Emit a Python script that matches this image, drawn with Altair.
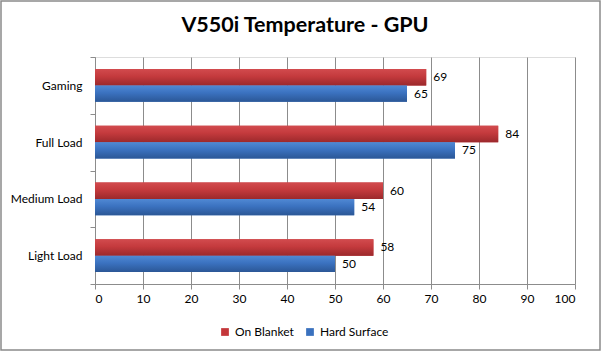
import altair as alt
import pandas as pd

categories = ["Gaming", "Full Load", "Medium Load", "Light Load"]
series = ["On Blanket", "Hard Surface"]
on_blanket = [69, 84, 60, 58]
hard_surface = [65, 75, 54, 50]
x_ticks = [0, 10, 20, 30, 40, 50, 60, 70, 80, 90, 100]

rows = []
for c, a, b in zip(categories, on_blanket, hard_surface):
    rows.append({"cat": c, "series": series[0], "val": a})
    rows.append({"cat": c, "series": series[1], "val": b})
df = pd.DataFrame(rows)

FONT = "Lato"
GRID = "#8c8c8c"

y_enc = alt.Y("cat:N", sort=categories, title=None,
              scale=alt.Scale(paddingInner=0, paddingOuter=0),
              axis=alt.Axis(labelFont=FONT, labelFontSize=12, labelColor="#000000",
                            labelPadding=8, tickBand="extent", tickSize=5,
                            tickColor=GRID, domainColor=GRID))
yoff_enc = alt.YOffset("series:N", sort=series,
                       scale=alt.Scale(paddingInner=0, paddingOuter=0.73))
x_enc = alt.X("val:Q", title=None,
              scale=alt.Scale(domain=[0, 100], nice=False),
              axis=alt.Axis(values=x_ticks, grid=True, gridColor=GRID,
                            labelFont=FONT, labelFontSize=12, labelColor="#000000",
                            tickSize=5, tickColor=GRID, domainColor=GRID,
                            labelPadding=4))

color_enc = alt.Color("series:N", sort=series,
                      scale=alt.Scale(domain=series, range=["#C4373A", "#3A71BE"]),
                      legend=alt.Legend(title=None, orient="none", direction="horizontal",
                                        legendX=124, legendY=269, symbolType="square",
                                        symbolSize=60, labelFont=FONT, labelFontSize=12,
                                        labelColor="#000000", columnPadding=10,
                                        symbolStrokeWidth=0, labelOffset=4))

base = alt.Chart(df).encode(y=y_enc, yOffset=yoff_enc)

bars = base.mark_bar().encode(x=x_enc, color=color_enc)

def grad(top, mid, bot):
    return alt.Gradient(gradient="linear", x1=0, x2=0, y1=0, y2=1,
                        stops=[alt.GradientStop(color=top, offset=0),
                               alt.GradientStop(color=mid, offset=0.45),
                               alt.GradientStop(color=bot, offset=1)])

red_bars = base.mark_bar(color=grad("#D24B4E", "#C43A3D", "#9C292C")).encode(
    x="val:Q").transform_filter(alt.datum.series == series[0])
blue_bars = base.mark_bar(color=grad("#5089D4", "#3B72C0", "#2B5796")).encode(
    x="val:Q").transform_filter(alt.datum.series == series[1])

labels = base.mark_text(align="left", baseline="middle", dx=7, font=FONT,
                        fontSize=12, color="#000000").encode(
    x=alt.X("val:Q"), text=alt.Text("val:Q"))

border = alt.Chart(pd.DataFrame({"a": [0]})).mark_rect(
    fill=None, stroke="#8a8a8a", strokeWidth=1.5, clip=False).encode(
    x=alt.value(-94), x2=alt.value(505), y=alt.value(-56), y2=alt.value(293))

chart = alt.layer(bars, red_bars, blue_bars, labels, border).properties(
    width=480, height=227,
    title=alt.TitleParams("V550i Temperature - GPU", font=FONT, fontSize=21.5,
                          fontWeight="bold", color="#000000", anchor="middle",
                          dx=-30, offset=-36),
    autosize=alt.AutoSizeParams(type="none"),
    padding={"left": 95, "top": 57, "right": 26, "bottom": 67},
).configure_view(stroke=None).configure(background="white")

chart.save("out.html", embed_options={"renderer": "svg", "actions": False})
